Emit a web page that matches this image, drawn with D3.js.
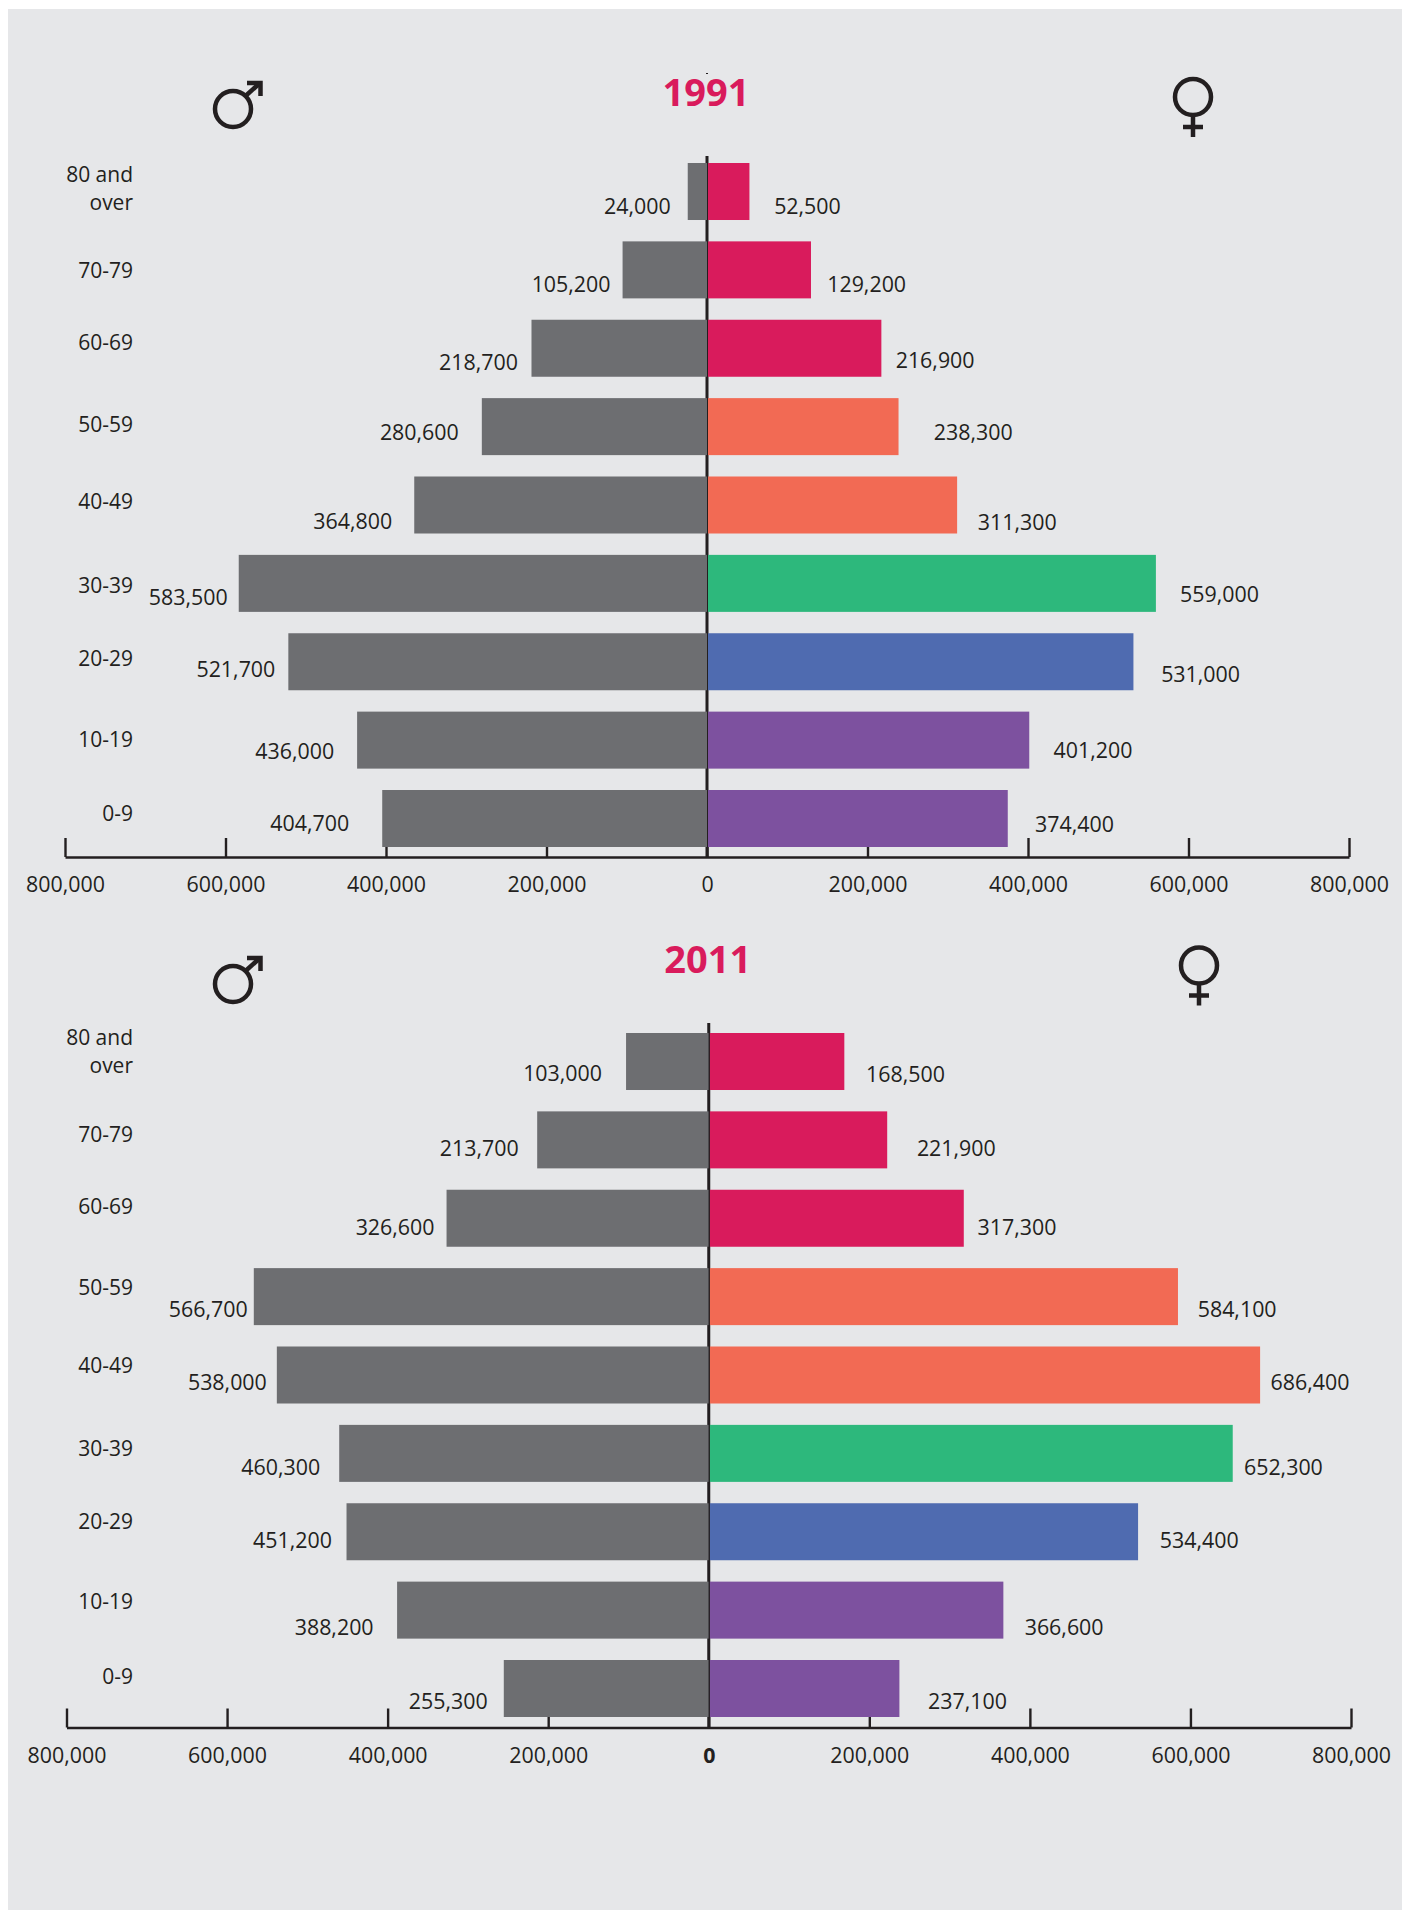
<!DOCTYPE html>
<html>
<head>
<meta charset="utf-8">
<script src="https://cdn.jsdelivr.net/npm/d3@7"></script>
<style>
html,body{margin:0;padding:0;background:#fff}
svg{display:block}
text{font-family:"Open Sans",sans-serif;fill:#231f20}
</style>
</head>
<body>
<svg id="c" width="1402" height="1910"></svg>
<script>
const ages = ["80 and over","70-79","60-69","50-59","40-49","30-39","20-29","10-19","0-9"];
const tickValues = [-800000,-600000,-400000,-200000,0,200000,400000,600000,800000];
const male1991 = [24000,105200,218700,280600,364800,583500,521700,436000,404700];
const female1991 = [52500,129200,216900,238300,311300,559000,531000,401200,374400];
const male2011 = [103000,213700,326600,566700,538000,460300,451200,388200,255300];
const female2011 = [168500,221900,317300,584100,686400,652300,534400,366600,237100];
const femaleColors = ["#d91b5c","#d91b5c","#d91b5c","#f26a54","#f26a54","#2db87c","#4f6bb0","#7d519f","#7d519f"];
const maleColor = "#6d6e71";

// Layout: hand-placed label offsets seen in the reference
const panels = [
  {year:"1991", male:male1991, female:female1991, x:[65,1349], top:163, axisY:857, lineTop:156, titleY:106,
   maleSym:[233,109], femaleSym:[1193,97], zeroBold:false,
   ageY:[182,278,350,432,509,593,666,747,821],
   mGap:[17,12,13.5,23,22,11,13,23,33], mDrop:[51,50.5,50,42,53,50,44,47,41],
   fGap:[25,16.5,14.6,35.6,21,24.4,28,24.6,27.5], fDrop:[51,51,48,42,53.5,47,48.5,46,42]},
  {year:"2011", male:male2011, female:female2011, x:[66.5,1351], top:1033, axisY:1727.5, lineTop:1023, titleY:973,
   maleSym:[233,984], femaleSym:[1199,965.5], zeroBold:true,
   ageY:[1045,1142,1213.5,1295,1373,1456,1529,1609,1684],
   mGap:[24,18.5,12,6,10,19,14.5,23.5,16], mDrop:[48,45,45,49,43.5,50,45,53,49],
   fGap:[22,30,14,20,10.7,11.5,22,21.6,29], fDrop:[49,45,45,49,43.5,50,45,53,49]}
];
const ink = "#231f20";
const labelSize = 21.4;
const svg = d3.select("#c");
svg.append("rect").attr("x",8).attr("y",9).attr("width",1394).attr("height",1901).attr("fill","#e6e7e9");

panels.forEach(p => {
  const g = svg.append("g");
  const x = d3.scaleLinear().domain([-800000,800000]).range(p.x);
  const y = d3.scaleBand().domain(ages).range([p.top,p.top+684]).paddingInner(0.2727).paddingOuter(0);
  const x0 = x(0);

  // axis, behind the bars
  const axis = g.append("g").attr("transform",`translate(0,${p.axisY})`)
    .call(d3.axisBottom(x).tickValues(tickValues).tickSizeInner(-19).tickSizeOuter(0).tickPadding(20)
      .tickFormat(d => d3.format(",")(Math.abs(d))));
  axis.select(".domain").attr("stroke",ink).attr("stroke-width",2.6);
  axis.selectAll(".tick line").attr("stroke",ink).attr("stroke-width",2.4);
  axis.selectAll(".tick text").attr("font-size",labelSize).attr("fill",ink)
    .attr("font-family",'"Open Sans",sans-serif')
    .attr("font-weight",d => (d===0 && p.zeroBold) ? 700 : 400);

  // central line
  g.append("line").attr("x1",x0).attr("x2",x0).attr("y1",p.lineTop).attr("y2",p.axisY)
    .attr("stroke",ink).attr("stroke-width",3);

  // bars
  g.selectAll(".m").data(p.male).join("rect").attr("class","m")
    .attr("x",d=>x(-d)).attr("width",d=>x0-x(-d)).attr("y",(d,i)=>y(ages[i])).attr("height",y.bandwidth())
    .attr("fill",maleColor);
  g.selectAll(".f").data(p.female).join("rect").attr("class","f")
    .attr("x",x0+1).attr("width",d=>x(d)-x0-0.7).attr("y",(d,i)=>y(ages[i])).attr("height",y.bandwidth())
    .attr("fill",(d,i)=>femaleColors[i]);
  // thin centre line over the bars
  g.append("line").attr("x1",x0+0.5).attr("x2",x0+0.5).attr("y1",p.top).attr("y2",p.top+684)
    .attr("stroke",ink).attr("stroke-width",1);

  // value labels
  g.selectAll(".ml").data(p.male).join("text").attr("class","ml")
    .attr("x",(d,i)=>x(-d)-p.mGap[i]).attr("y",(d,i)=>y(ages[i])+p.mDrop[i])
    .attr("text-anchor","end").attr("font-size",labelSize).text(d=>d3.format(",")(d));
  g.selectAll(".fl").data(p.female).join("text").attr("class","fl")
    .attr("x",(d,i)=>x(d)+p.fGap[i]).attr("y",(d,i)=>y(ages[i])+p.fDrop[i])
    .attr("text-anchor","start").attr("font-size",labelSize).text(d=>d3.format(",")(d));

  // age labels
  ages.forEach((a,i) => {
    if (a === "80 and over") {
      g.append("text").attr("x",133).attr("y",p.ageY[i]).attr("text-anchor","end").attr("font-size",21).text("80 and");
      g.append("text").attr("x",133).attr("y",p.ageY[i]+28).attr("text-anchor","end").attr("font-size",21).text("over");
    } else {
      g.append("text").attr("x",133).attr("y",p.ageY[i]).attr("text-anchor","end").attr("font-size",21).text(a);
    }
  });

  // title
  g.append("text").attr("x",x0-1).attr("y",p.titleY).attr("text-anchor","middle")
    .attr("font-size",38).attr("font-weight",700).style("fill","#d91b5c").text(p.year);

  // male symbol
  const [mx,my] = p.maleSym;
  const ms = g.append("g").attr("transform",`translate(${mx},${my})`).attr("fill","none").attr("stroke",ink).attr("stroke-width",4.5);
  ms.append("circle").attr("r",18);
  ms.append("path").attr("d","M12.5,-13 L27,-26");
  ms.append("path").attr("d","M14,-26 H27.5 V-13").attr("stroke-width",4.5);

  // female symbol
  const [fx,fy] = p.femaleSym;
  const fs = g.append("g").attr("transform",`translate(${fx},${fy})`).attr("fill","none").attr("stroke",ink).attr("stroke-width",4.5);
  fs.append("circle").attr("r",18);
  fs.append("path").attr("d","M0,18 V40 M-10,30 H10");
});

// the tiny stray mark above the 1991 title
svg.append("line").attr("x1",706).attr("x2",708).attr("y1",73.5).attr("y2",73.5).attr("stroke",ink).attr("stroke-width",1);
</script>
</body>
</html>
